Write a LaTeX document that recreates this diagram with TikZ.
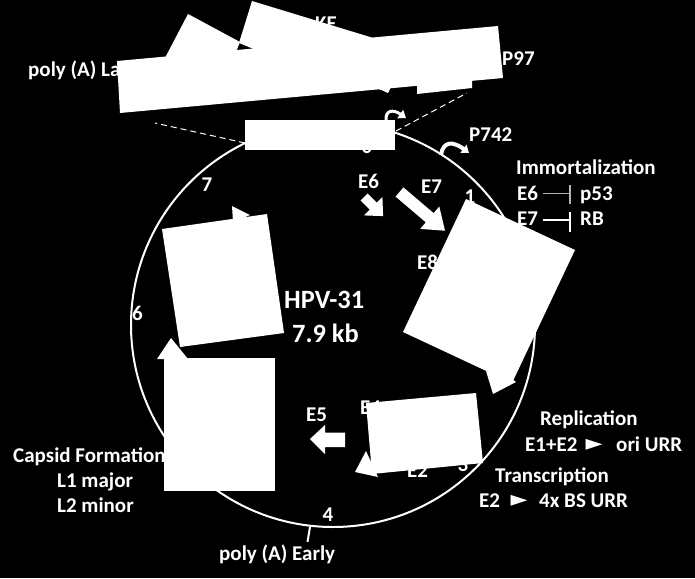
\documentclass[tikz,border=0pt]{standalone}
\usepackage{fontspec}
\setmainfont{Carlito}
\newfontfamily\symfont{DejaVu Sans}
\usetikzlibrary{arrows.meta}
\begin{document}
\begin{tikzpicture}[x=1pt,y=-1pt,
  lbl/.style={text=white,font=\fontsize{21}{25}\selectfont\bfseries,inner sep=0pt,anchor=base west},
  num/.style={lbl,anchor=base},
  big/.style={text=white,font=\fontsize{26.4}{30}\selectfont\bfseries,inner sep=0pt,anchor=base west},
  tri/.style={text=white,font=\fontsize{22}{24}\selectfont\symfont,inner sep=0pt,anchor=center},
  mask/.style={fill=white,draw=none},
  dashline/.style={white,line width=1pt,dash pattern=on 6pt off 4pt},
  promo/.style={white,line width=3.2pt,-{Triangle[length=7pt,width=10pt]}},
  inhib/.style={line width=1.3pt},
]
\useasboundingbox (0,0) rectangle (695,578);
\fill[black] (0,0) rectangle (695,578);

% genome circle
\coordinate (C) at (333,325);
\draw[white,line width=2pt] (C) circle[radius=202];

% poly(A) early tick
\coordinate (tk1) at (310,527);
\coordinate (tk2) at (307.5,542);
\draw[white,line width=2pt] (tk1) -- (tk2);

% dashed zoom lines
\coordinate (dl1) at (245,143); \coordinate (dl2) at (155,123);
\coordinate (dr1) at (396,131); \coordinate (dr2) at (467,93);
\draw[dashline] (dl1) -- (dl2);
\draw[dashline] (dr1) -- (dr2);

% promoter arrows
\coordinate (p97a) at (386,121);
\coordinate (p97b) at (406,118);
\draw[promo,line width=3pt] (p97a) .. controls (385,110) and (393,109) .. (p97b);
\coordinate (p742a) at (441,155);
\coordinate (p742b) at (469,153);
\draw[promo,line width=4pt] (p742a) .. controls (443,141) and (453,141) .. (p742b);

% texts
\node[lbl] (polyL) at (28,76) {poly (A) Late};
\node[lbl] (ke) at (315,30.5) {KE};
\node[lbl] (p97) at (502,66) {P97};
\node[lbl] (p742) at (469,141) {P742};
\node[lbl] (imm) at (516,174) {Immortalization};
\node[lbl] (e6r) at (517,200) {E6};
\node[lbl] (p53) at (580,200) {p53};
\node[lbl] (e7r) at (517,225) {E7};
\node[lbl] (rb) at (580,225) {RB};
\node[lbl] (repl) at (540,425) {Replication};
\node[lbl] (e1e2) at (525,451) {E1+E2};
\node[tri] (tr1) at (594,445) {►};
\node[lbl] (ori) at (616,451) {ori URR};
\node[lbl] (trans) at (495,482) {Transcription};
\node[lbl] (e2r) at (479,507) {E2};
\node[tri] (tr2) at (519,501) {►};
\node[lbl] (bs) at (539,507) {4x BS URR};
\node[lbl] (caps) at (13,462) {Capsid Formation};
\node[lbl] (l1) at (57,487) {L1 major};
\node[lbl] (l2) at (57,512) {L2 minor};
\node[lbl] (polyE) at (219,560) {poly (A) Early};
\node[num] (n0) at (367,153) {0};
\node[num] (n1) at (470,203) {1};
\node[num] (n3) at (463,471) {3};
\node[num] (n4) at (328,521) {4};
\node[num] (n6) at (137.5,320) {6};
\node[num] (n7) at (207,191) {7};
\node[lbl] (e6) at (358,188) {E6};
\node[lbl] (e7) at (421,193) {E7};
\node[lbl] (e8) at (417,269) {E8};
\node[lbl] (e5) at (306,421) {E5};
\node[lbl] (e4) at (360,414) {E4};
\node[lbl] (e2) at (407,477) {E2};
\node[big] (hpv) at (284,308) {HPV-31};
\node[big] (kb) at (292,342) {7.9 kb};

% inhibition lines
\coordinate (i6a) at (543,193.5); \coordinate (i6b) at (570,193.5);
\coordinate (i6t) at (570,185); \coordinate (i6u) at (570,204);
\draw[inhib,white!70!black] (i6a) -- (i6b);
\draw[inhib,white!70!black] (i6t) -- (i6u);
\coordinate (i7a) at (543,220); \coordinate (i7b) at (570,220);
\coordinate (i7t) at (570,211.5); \coordinate (i7u) at (570,231.5);
\draw[inhib,white] (i7a) -- (i7b);
\draw[inhib,white] (i7t) -- (i7u);

% block arrows
\fill[mask] (367.5,193.5) -- (376.7,202.7) -- (382.4,197.0) -- (383.1,216.1)
  -- (364.0,215.4) -- (369.7,209.7) -- (360.5,200.5) -- cycle; % E6
\fill[mask] (403.4,187.4) -- (433.6,213.1) -- (439.3,206.5) -- (445,230.7)
  -- (420.2,228.9) -- (425.8,222.3) -- (395.6,196.6) -- cycle; % E7
\fill[mask] (310,439) -- (325,425) -- (325,432.5) -- (345,432.5)
  -- (345,447) -- (325,447) -- (325,454) -- cycle; % E5

% white covering shapes
\fill[mask] (245,120) rectangle (395,150);
\fill[mask] (117,61) -- (498,26) -- (503,78) -- (120,113) -- cycle;
\fill[mask] (165,58) -- (188,14) -- (240,42) -- (236,52) -- cycle;
\fill[mask] (239,43) -- (252,1) -- (372,37.6) -- (372,45) -- (256,50) -- cycle;
\fill[mask] (417,85) -- (417,94) -- (472,88) -- (472,79) -- cycle;
\fill[mask] (379,89) -- (388,93) -- (391,87) -- cycle;

\fill[mask] (162,229) -- (267,214) -- (284,333) -- (180,347) -- cycle;
\fill[mask] (232,206) -- (250,215) -- (233,222) -- cycle;
\fill[mask] (164,358) rectangle (275,491);
\fill[mask] (171,338) -- (188,359) -- (157,359) -- cycle;

\fill[mask] (466,199) -- (575,250) -- (512,383) -- (403,332) -- cycle;
\fill[mask] (486,371) -- (493,394) -- (516,382) -- (512,379) -- cycle;

\fill[mask] (366,403) -- (476,393) -- (483,463) -- (372,474) -- cycle;
\fill[mask] (355,472) -- (366,451) -- (378,477) -- cycle;
\end{tikzpicture}
\end{document}
